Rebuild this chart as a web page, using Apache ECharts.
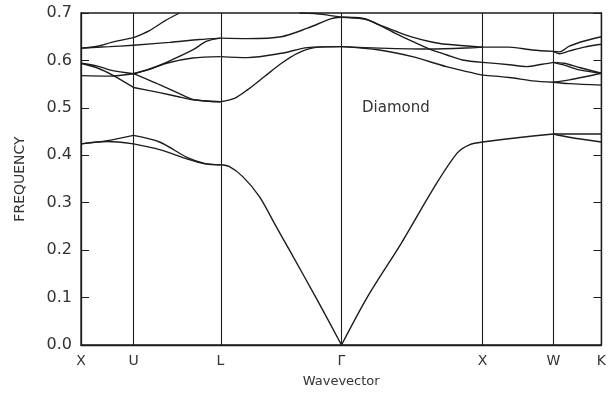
<!DOCTYPE html>
<html>
<head>
<meta charset="utf-8">
<script src="https://cdn.jsdelivr.net/npm/echarts@6/dist/echarts.min.js"></script>
<style>
html,body{margin:0;padding:0;background:#fff;}
#chart{width:609px;height:396px;}
</style>
</head>
<body>
<div id="chart"></div>
<script>
// Symmetry points along the wavevector path (units of 2π/a)
const kPoints = [0, 0.372, 0.987, 1.844, 2.842, 3.344, 3.684];
const kLabels = ['X', 'U', 'L', 'Γ', 'X', 'W', 'K'];
const freqTicks = [0, 0.1, 0.2, 0.3, 0.4, 0.5, 0.6, 0.7];

// Bands, per path segment; each line is a list of [k, frequency]
const segXU = [
  [[0,0.424],[0.188,0.431],[0.372,0.442]],
  [[0,0.424],[0.188,0.429],[0.372,0.424]],
  [[0,0.626],[0.117,0.630],[0.216,0.638],[0.372,0.648]],
  [[0,0.626],[0.202,0.629],[0.372,0.632]],
  [[0,0.594],[0.117,0.584],[0.230,0.568],[0.372,0.543]],
  [[0,0.594],[0.117,0.588],[0.216,0.579],[0.372,0.572]],
  [[0,0.568],[0.202,0.567],[0.372,0.572]]
];
const segUL = [
  [[0.372,0.442],[0.556,0.428],[0.754,0.395],[0.874,0.383],[0.987,0.380]],
  [[0.372,0.424],[0.556,0.412],[0.754,0.392],[0.874,0.382],[0.987,0.380]],
  [[0.372,0.648],[0.485,0.663],[0.591,0.683],[0.697,0.700]],
  [[0.372,0.632],[0.626,0.638],[0.839,0.644],[0.987,0.647]],
  [[0.372,0.572],[0.485,0.582],[0.605,0.596],[0.791,0.622],[0.886,0.640],[0.987,0.647]],
  [[0.372,0.572],[0.485,0.581],[0.605,0.594],[0.791,0.605],[0.987,0.608]],
  [[0.372,0.572],[0.485,0.558],[0.556,0.549],[0.697,0.530],[0.791,0.518],[0.909,0.514],[0.987,0.513]],
  [[0.372,0.543],[0.556,0.532],[0.697,0.523],[0.791,0.517],[0.909,0.514],[0.987,0.513]]
];
const segLG = [
  [[0.987,0.380],[1.051,0.376],[1.145,0.355],[1.263,0.313],[1.381,0.250],[1.476,0.200],[1.674,0.094],[1.844,0]],
  [[0.987,0.647],[1.178,0.646],[1.419,0.650],[1.603,0.668],[1.773,0.688],[1.844,0.691]],
  [[0.987,0.608],[1.178,0.606],[1.419,0.615],[1.603,0.627],[1.844,0.629]],
  [[0.987,0.513],[1.086,0.520],[1.178,0.538],[1.299,0.566],[1.419,0.594],[1.532,0.615],[1.653,0.627],[1.844,0.629]],
  [[1.546,0.700],[1.653,0.699],[1.737,0.696],[1.844,0.691]]
];
const segGX = [
  [[1.844,0],[2.027,0.101],[2.268,0.215],[2.501,0.333],[2.664,0.405],[2.749,0.422],[2.842,0.428]],
  [[1.844,0.691],[1.992,0.689],[2.112,0.675],[2.233,0.661],[2.346,0.649],[2.466,0.640],[2.586,0.634],[2.842,0.628]],
  [[1.844,0.691],[1.992,0.688],[2.062,0.682],[2.233,0.656],[2.346,0.640],[2.466,0.624],[2.586,0.612],[2.699,0.601],[2.842,0.596]],
  [[1.844,0.629],[2.112,0.626],[2.466,0.624],[2.799,0.627],[2.842,0.628]],
  [[1.844,0.629],[2.112,0.622],[2.346,0.608],[2.586,0.587],[2.842,0.569]]
];
const segXW = [
  [[2.842,0.428],[3.089,0.437],[3.344,0.445]],
  [[2.842,0.628],[3.033,0.628],[3.195,0.622],[3.344,0.619]],
  [[2.842,0.596],[3.033,0.591],[3.153,0.587],[3.266,0.592],[3.344,0.596]],
  [[2.842,0.569],[3.033,0.564],[3.195,0.557],[3.344,0.554]]
];
const segWK = [
  [[3.344,0.445],[3.684,0.445]],
  [[3.344,0.445],[3.457,0.438],[3.684,0.428]],
  [[3.344,0.619],[3.386,0.618],[3.457,0.630],[3.563,0.641],[3.684,0.650]],
  [[3.344,0.619],[3.386,0.614],[3.457,0.620],[3.563,0.628],[3.684,0.634]],
  [[3.344,0.596],[3.422,0.594],[3.528,0.585],[3.684,0.573]],
  [[3.344,0.596],[3.422,0.590],[3.528,0.580],[3.684,0.573]],
  [[3.344,0.554],[3.457,0.559],[3.577,0.566],[3.684,0.573]],
  [[3.344,0.554],[3.457,0.551],[3.684,0.548]]
];
const structureName = 'Diamond';

const ink = '#1c1c1c';
const textColor = '#333';
const fontFamily = 'DejaVu Sans, sans-serif';

const allLines = [].concat(segXU, segUL, segLG, segGX, segXW, segWK);
const series = allLines.map(function (line) {
  return {
    type: 'line',
    data: line,
    smooth: 0.3,
    showSymbol: false,
    silent: true,
    lineStyle: { color: ink, width: 1.4 },
    z: 3
  };
});
series.push({
  type: 'line',
  data: [],
  silent: true,
  markLine: {
    silent: true,
    symbol: ['none', 'none'],
    label: { show: false },
    lineStyle: { color: ink, width: 1.1, type: 'solid' },
    animation: false,
    data: kPoints.slice(1, -1).map(function (k) { return { xAxis: k }; })
  }
});

const chart = echarts.init(document.getElementById('chart'), null, { renderer: 'canvas' });
chart.setOption({
  animation: false,
  backgroundColor: '#fff',
  title: {
    text: structureName,
    left: 362, top: 101, padding: 0,
    textStyle: { fontSize: 15, fontWeight: 'normal', color: textColor, fontFamily: fontFamily }
  },
  grid: {
    left: 81, top: 13, width: 521, height: 332,
    show: true, borderColor: ink, borderWidth: 1.3, backgroundColor: 'transparent'
  },
  xAxis: {
    type: 'value', min: kPoints[0], max: kPoints[kPoints.length - 1],
    name: 'Wavevector', nameLocation: 'middle', nameGap: 30,
    nameTextStyle: { fontSize: 13, color: textColor, fontFamily: fontFamily },
    axisLine: { show: true, lineStyle: { color: ink, width: 1.3 } },
    axisTick: { show: false },
    splitLine: { show: false },
    axisLabel: {
      customValues: kPoints,
      margin: 9,
      fontSize: 14,
      color: textColor,
      fontFamily: fontFamily,
      formatter: function (v) {
        let best = 0;
        for (let i = 0; i < kPoints.length; i++) {
          if (Math.abs(kPoints[i] - v) < Math.abs(kPoints[best] - v)) best = i;
        }
        return kLabels[best];
      }
    }
  },
  yAxis: [{
    type: 'value', min: freqTicks[0], max: freqTicks[freqTicks.length - 1], interval: 0.1,
    name: 'FREQUENCY', nameLocation: 'middle', nameGap: 54, nameRotate: 90,
    nameTextStyle: { fontSize: 14, color: textColor, fontFamily: fontFamily },
    axisLine: { show: true, lineStyle: { color: ink, width: 1.3 } },
    axisTick: { show: true, inside: true, length: 8, lineStyle: { color: ink, width: 1 } },
    splitLine: { show: false },
    axisLabel: {
      margin: 9, fontSize: 16, color: textColor, fontFamily: fontFamily,
      formatter: function (v) { return v.toFixed(1); }
    }
  }, {
    type: 'value', position: 'right', min: freqTicks[0], max: freqTicks[freqTicks.length - 1], interval: 0.1,
    axisLine: { show: true, lineStyle: { color: ink, width: 1.3 } },
    axisTick: { show: true, inside: true, length: 8, lineStyle: { color: ink, width: 1 } },
    splitLine: { show: false },
    axisLabel: { show: false }
  }],
  series: series
});
</script>
</body>
</html>
